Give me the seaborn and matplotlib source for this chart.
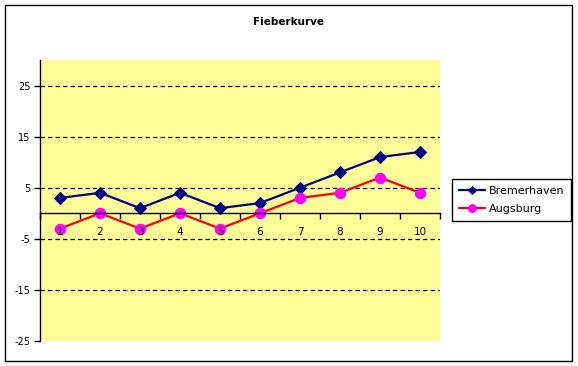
import matplotlib
matplotlib.use("Agg")
import matplotlib.pyplot as plt
import seaborn as sns
from matplotlib.patches import Rectangle

# data
tage = [1, 2, 3, 4, 5, 6, 7, 8, 9, 10]
bremerhaven = [3, 4, 1, 4, 1, 2, 5, 8, 11, 12]
augsburg = [-3, 0, -3, 0, -3, 0, 3, 4, 7, 4]
y_ticks = [-25, -15, -5, 5, 15, 25]

sns.set_style("white")
plt.rcParams["font.family"] = ["DejaVu Sans"]
plt.rcParams["text.color"] = "black"
plt.rcParams["xtick.color"] = "black"
plt.rcParams["ytick.color"] = "black"

W, H = 578, 366
fig = plt.figure(figsize=(W / 100, H / 100), dpi=100)
fig.patch.set_facecolor("white")

# plot area in pixel coords: left 40, right 440, top 60, bottom 341
ax = fig.add_axes([40 / W, 1 - 341 / H, 400 / W, 281 / H])
ax.set_facecolor("#FFFF99")
ax.set_axisbelow(False)

ax.set_xlim(0.5, 10.5)
ax.set_ylim(-25, 30)

for y in y_ticks[1:]:
    ax.axhline(y, color="black", lw=0.9, ls=(0, (3.5, 2.5)), zorder=1)

sns.lineplot(x=tage, y=bremerhaven, ax=ax, color="#000080", lw=1.6,
             marker="D", markersize=6, markerfacecolor="#000080",
             markeredgecolor="#000080", label="Bremerhaven", zorder=2)
sns.lineplot(x=tage, y=augsburg, ax=ax, color="#FF0000", lw=1.6,
             marker="o", markersize=7.5, markerfacecolor="#FF00FF",
             markeredgecolor="#FF00FF", label="Augsburg", zorder=2)

# spines
for s in ["top", "right"]:
    ax.spines[s].set_visible(False)
ax.spines["left"].set_color("black")
ax.spines["left"].set_linewidth(1)
ax.spines["bottom"].set_position(("data", 0))
ax.spines["bottom"].set_color("black")
ax.spines["bottom"].set_linewidth(1)

ax.set_yticks(y_ticks)
ax.set_yticklabels([str(v) for v in y_ticks], fontsize=7)
ax.tick_params(axis="y", direction="out", length=4, width=1, color="black", pad=3, left=True)

ax.set_xticks(tage)
ax.set_xticklabels([str(t) for t in tage], fontsize=7.5)
ax.set_xticks([t + 0.5 for t in range(0, 11)], minor=True)
ax.tick_params(axis="x", which="major", length=0, pad=10, bottom=True)
ax.tick_params(axis="x", which="minor", direction="out", length=4, width=1, color="black", bottom=True)
ax.set_xlabel("")
ax.set_ylabel("")

leg = ax.legend(loc="center left", bbox_to_anchor=(452 / W, 1 - 200 / H),
                bbox_transform=fig.transFigure, fontsize=8, frameon=True,
                fancybox=False, framealpha=1, edgecolor="black",
                handlelength=2.4, borderpad=0.6, labelspacing=0.75,
                handletextpad=0.3, borderaxespad=0, markerscale=0.75)
leg.get_frame().set_linewidth(1)

fig.text(289 / W, 1 - 22 / H, "Fieberkurve", ha="center", va="center",
         fontsize=7.5, fontweight="bold")

fig.patches.append(Rectangle((5 / W, 1 - 361 / H), 567 / W, 356 / H,
                             transform=fig.transFigure, fill=False,
                             edgecolor="black", lw=1))

fig.savefig("out.png", dpi=100)
